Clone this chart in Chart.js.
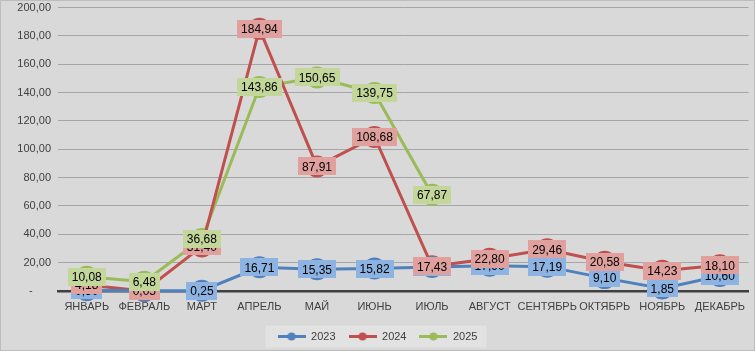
<!DOCTYPE html>
<html>
<head>
<meta charset="utf-8">
<script src="https://cdn.jsdelivr.net/npm/chart.js@4.4.1/dist/chart.umd.min.js"></script>
<style>
    body { margin: 0; background: #fff; }
    #wrap { width: 753px; height: 349px; border: 1px solid #bdbdbd; background: #d9d9d9; }
    canvas { display: block; }
</style>
</head>
<body>
<div id="wrap"><canvas id="chart" width="753" height="349"></canvas></div>
<script>
const MONTHS = ['ЯНВАРЬ', 'ФЕВРАЛЬ', 'МАРТ', 'АПРЕЛЬ', 'МАЙ', 'ИЮНЬ', 'ИЮЛЬ', 'АВГУСТ', 'СЕНТЯБРЬ', 'ОКТЯБРЬ', 'НОЯБРЬ', 'ДЕКАБРЬ'];
const YEARS = ['2023', '2024', '2025'];
const VALUES_2023 = [0.5, 0.1, 0.25, 16.71, 15.35, 15.82, 17.0, 17.9, 17.19, 9.10, 1.85, 10.60];
const VALUES_2024 = [4.18, 0.05, 31.4, 184.94, 87.91, 108.68, 17.43, 22.80, 29.46, 20.58, 14.23, 18.10];
const VALUES_2025 = [10.08, 6.48, 36.68, 143.86, 150.65, 139.75, 67.87, null, null, null, null, null];
const Y_TICKS = { min: 0, max: 200, step: 20 };

const COLORS = {
    line: ['#4f81bd', '#c0504d', '#9bbb59'],
    box: ['#8db3e2', '#e0a09e', '#c4d79b'],
    text: '#404040',
    grid: '#a6a6a6',
    baseline: '#404040',
    legendBg: '#e2e2e2'
};

const FONT = '"Liberation Sans", Arial, sans-serif';

const fmt = v => v.toFixed(2).replace('.', ',');

// small line-with-dot marker for the legend
function legendMarker(color) {
    const c = document.createElement('canvas');
    c.width = 28;
    c.height = 9;
    const g = c.getContext('2d');
    g.strokeStyle = color;
    g.lineWidth = 3;
    g.beginPath();
    g.moveTo(0, 4.5);
    g.lineTo(28, 4.5);
    g.stroke();
    g.fillStyle = color;
    g.beginPath();
    g.arc(14, 4.5, 4, 0, Math.PI * 2);
    g.fill();
    return c;
}

const valueLabels = {
    id: 'valueLabels',
    afterDatasetsDraw(chart) {
        const { ctx } = chart;
        ctx.save();
        ctx.font = '12px ' + FONT;
        ctx.textAlign = 'center';
        ctx.textBaseline = 'middle';
        chart.data.datasets.forEach((ds, i) => {
            const meta = chart.getDatasetMeta(i);
            meta.data.forEach((pt, j) => {
                const v = ds.data[j];
                if (v == null)
                    return;
                const txt = fmt(v);
                const w = ctx.measureText(txt).width + 8;
                const h = 18;
                ctx.fillStyle = COLORS.box[i];
                ctx.fillRect(Math.round(pt.x - w / 2), Math.round(pt.y - h / 2), Math.round(w), h);
                ctx.fillStyle = '#000';
                ctx.fillText(txt, pt.x, pt.y + 1);
            });
        });
        ctx.restore();
    }
};

const legendBox = {
    id: 'legendBox',
    beforeDraw(chart) {
        const boxes = chart.legend && chart.legend.legendHitBoxes;
        if (!boxes || !boxes.length)
            return;
        const left = Math.min(...boxes.map(b => b.left)) - 12;
        const right = Math.max(...boxes.map(b => b.left + b.width)) + 9;
        const mid = boxes[0].top + boxes[0].height / 2;
        const { ctx } = chart;
        ctx.save();
        ctx.fillStyle = COLORS.legendBg;
        ctx.fillRect(left, mid - 11, right - left, 22);
        ctx.restore();
    }
};

const series = [VALUES_2023, VALUES_2024, VALUES_2025];

new Chart(document.getElementById('chart'), {
    type: 'line',
    data: {
        labels: MONTHS,
        datasets: series.map((data, i) => ({
            label: YEARS[i],
            data,
            borderColor: COLORS.line[i],
            backgroundColor: COLORS.line[i],
            borderWidth: 3,
            pointStyle: 'circle',
            pointRadius: 11,
            pointBorderWidth: 0,
            pointBackgroundColor: COLORS.line[i],
            tension: 0,
            spanGaps: false,
            clip: false
        }))
    },
    plugins: [legendBox, valueLabels],
    options: {
        responsive: false,
        animation: false,
        layout: {
            autoPadding: false,
            padding: { top: 0, right: 0, left: 0, bottom: -2 }
        },
        plugins: {
            tooltip: { enabled: false },
            legend: {
                position: 'bottom',
                labels: {
                    usePointStyle: true,
                    pointStyleWidth: 28,
                    boxHeight: 9,
                    padding: 13,
                    color: COLORS.text,
                    font: { size: 11, family: FONT },
                    generateLabels: chart => chart.data.datasets.map((ds, i) => ({
                        text: ds.label,
                        pointStyle: legendMarker(COLORS.line[i]),
                        fillStyle: COLORS.line[i],
                        strokeStyle: COLORS.line[i],
                        lineWidth: 0,
                        fontColor: COLORS.text,
                        datasetIndex: i
                    }))
                }
            }
        },
        scales: {
            x: {
                offset: true,
                grid: { display: false, drawTicks: false },
                border: { display: true, color: COLORS.baseline, width: 2.5 },
                ticks: {
                    color: COLORS.text,
                    font: { size: 11, family: FONT },
                    padding: 9,
                    maxRotation: 0,
                    autoSkip: false
                },
                afterFit: s => { s.height = 27; }
            },
            y: {
                min: Y_TICKS.min,
                max: Y_TICKS.max,
                grid: {
                    color: ctx => ctx.tick && ctx.tick.value === 0 ? 'rgba(0,0,0,0)' : COLORS.grid,
                    lineWidth: 1,
                    drawTicks: false
                },
                border: { display: false },
                ticks: {
                    stepSize: Y_TICKS.step,
                    color: COLORS.text,
                    font: { size: 11, family: FONT },
                    padding: 7,
                    callback: v => v === 0 ? '-      ' : fmt(v)
                },
                afterFit: s => {
                    s.width = 57;
                    s.paddingTop = 6.5;
                    s.paddingBottom = 0;
                }
            }
        }
    }
});
</script>
</body>
</html>
